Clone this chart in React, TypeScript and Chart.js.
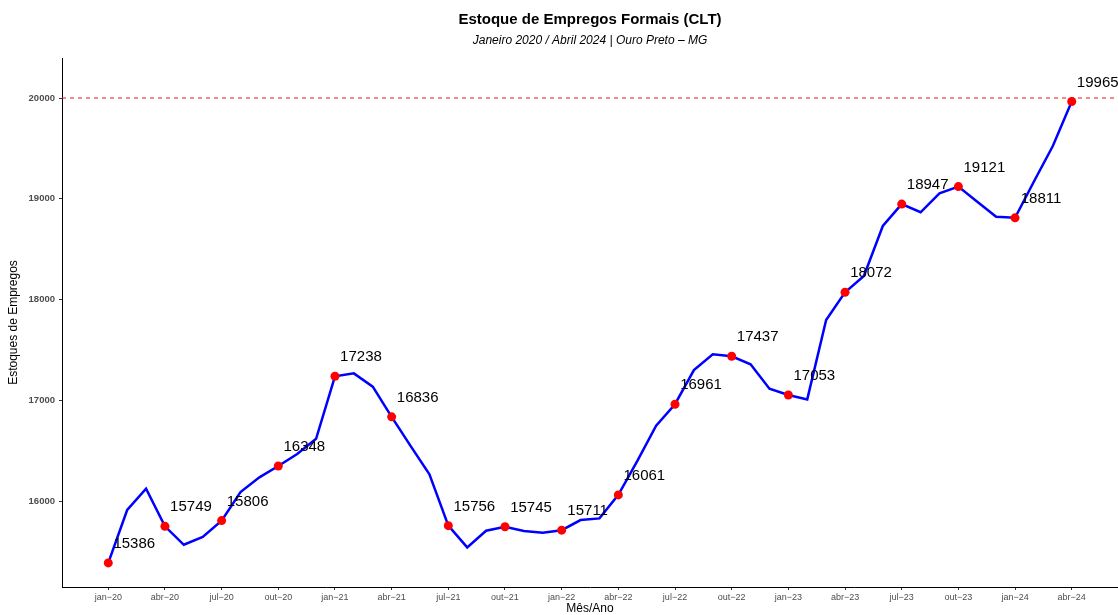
import React, { useEffect, useRef } from "react";
import { Chart, registerables } from "chart.js";

Chart.register(...registerables);

const months: string[] = [
  "jan−20","fev−20","mar−20","abr−20","mai−20","jun−20","jul−20","ago−20","set−20","out−20","nov−20","dez−20",
  "jan−21","fev−21","mar−21","abr−21","mai−21","jun−21","jul−21","ago−21","set−21","out−21","nov−21","dez−21",
  "jan−22","fev−22","mar−22","abr−22","mai−22","jun−22","jul−22","ago−22","set−22","out−22","nov−22","dez−22",
  "jan−23","fev−23","mar−23","abr−23","mai−23","jun−23","jul−23","ago−23","set−23","out−23","nov−23","dez−23",
  "jan−24","fev−24","mar−24","abr−24",
];

const estoque: number[] = [
  15386, 15911, 16122, 15749, 15566, 15643, 15806, 16089, 16235, 16348, 16466, 16618,
  17238, 17267, 17135, 16836, 16548, 16265, 15756, 15540, 15705, 15745, 15702, 15685,
  15711, 15811, 15828, 16061, 16397, 16747, 16961, 17300, 17456, 17437, 17357, 17115,
  17053, 17009, 17797, 18072, 18233, 18730, 18947, 18866, 19054, 19121, 18970, 18822,
  18811, 19171, 19524, 19965,
];

const yTicks: number[] = [16000, 17000, 18000, 19000, 20000];
const referenceLine = 20000;
const titleText = "Estoque de Empregos Formais (CLT)";
const subtitleText = "Janeiro 2020 / Abril 2024 | Ouro Preto – MG";
const xTitle = "Mês/Ano";
const yTitle = "Estoques de Empregos";

const FONT = "'Liberation Sans', Arial, Helvetica, sans-serif";

const decorPlugin = {
  id: "decor",
  beforeDatasetsDraw(chart: any) {
    const { ctx, chartArea, scales } = chart;
    const y = scales.y.getPixelForValue(referenceLine);
    ctx.save();
    ctx.strokeStyle = "#e8141b";
    ctx.lineWidth = 1;
    ctx.setLineDash([4, 4]);
    ctx.beginPath();
    ctx.moveTo(chartArea.left, y);
    ctx.lineTo(chartArea.right, y);
    ctx.stroke();
    ctx.restore();
  },
  afterDraw(chart: any) {
    const { ctx, chartArea, scales } = chart;
    const cx = (chartArea.left + chartArea.right) / 2;
    ctx.save();
    ctx.fillStyle = "#000000";
    ctx.textAlign = "center";
    ctx.textBaseline = "middle";
    ctx.font = `bold 15px ${FONT}`;
    ctx.fillText(titleText, cx, 20);
    ctx.font = `italic 12px ${FONT}`;
    ctx.fillText(subtitleText, cx, 41);
    ctx.font = `12px ${FONT}`;
    ctx.textBaseline = "top";
    ctx.fillText(xTitle, cx, 603);
    ctx.save();
    ctx.translate(14, (chartArea.top + chartArea.bottom) / 2);
    ctx.rotate(-Math.PI / 2);
    ctx.textBaseline = "middle";
    ctx.fillText(yTitle, 0, 0);
    ctx.restore();

    // value labels at quarterly points
    ctx.font = `15px ${FONT}`;
    ctx.textBaseline = "middle";
    ctx.textAlign = "center";
    ctx.fillStyle = "#000000";
    estoque.forEach((v, i) => {
      if (i % 3 !== 0) return;
      const px = scales.x.getPixelForValue(i);
      const py = scales.y.getPixelForValue(v);
      ctx.fillText(String(v), px + 26, py - 19);
    });
    ctx.restore();
  },
};

export default function App() {
  const ref = useRef<HTMLCanvasElement | null>(null);
  useEffect(() => {
    document.body.style.margin = "0";
    const canvas = ref.current;
    if (!canvas) return;
    const chart = new Chart(canvas, {
      type: "line",
      data: {
        datasets: [
          {
            data: estoque.map((v, i) => ({ x: i, y: v })),
            borderColor: "#0000ff",
            borderWidth: 2.5,
            tension: 0,
            pointRadius: (c: any) => (c.dataIndex % 3 === 0 ? 4.5 : 0),
            pointHoverRadius: 0,
            pointBackgroundColor: "#ff0000",
            pointBorderColor: "#ff0000",
            pointBorderWidth: 0,
            fill: false,
            clip: false,
          },
        ],
      },
      options: {
        responsive: false,
        animation: false,
        events: [],
        layout: { autoPadding: false, padding: { top: 58, left: 0, right: 0, bottom: 0 } },
        plugins: {
          legend: { display: false },
          title: { display: false },
          tooltip: { enabled: false },
        },
        scales: {
          x: {
            type: "linear",
            min: -2.45,
            max: 53.45,
            afterBuildTicks: (axis: any) => {
              const t: any[] = [];
              for (let i = 0; i < months.length; i += 3) t.push({ value: i });
              axis.ticks = t;
            },
            afterFit: (axis: any) => {
              axis.height = 28;
              axis.paddingLeft = 0;
              axis.paddingRight = 0;
            },
            ticks: {
              autoSkip: false,
              maxRotation: 0,
              minRotation: 0,
              padding: 2,
              color: "#4d4d4d",
              font: { family: FONT, size: 9 },
              callback: (v: any) => months[v as number] ?? "",
            },
            grid: {
              drawOnChartArea: false,
              drawTicks: true,
              tickLength: 3,
              tickColor: "#333333",
            },
            border: { display: true, color: "#000000", width: 1 },
          },
          y: {
            type: "linear",
            min: 15147,
            max: 20397,
            afterBuildTicks: (axis: any) => {
              axis.ticks = yTicks.map((v) => ({ value: v }));
            },
            afterFit: (axis: any) => {
              axis.width = 62;
              axis.paddingTop = 0;
              axis.paddingBottom = 0;
            },
            ticks: {
              padding: 4,
              color: "#4d4d4d",
              font: { family: FONT, size: 9.5, weight: "bold" },
              callback: (v: any) => String(v),
            },
            grid: {
              drawOnChartArea: false,
              drawTicks: true,
              tickLength: 3,
              tickColor: "#333333",
            },
            border: { display: true, color: "#000000", width: 1 },
          },
        },
      } as any,
      plugins: [decorPlugin],
    });
    return () => chart.destroy();
  }, []);
  return (
    <div style={{ position: "fixed", left: 0, top: 0, width: 1118, height: 615, background: "#ffffff" }}>
      <canvas ref={ref} width={1118} height={615} style={{ display: "block" }} />
    </div>
  );
}
